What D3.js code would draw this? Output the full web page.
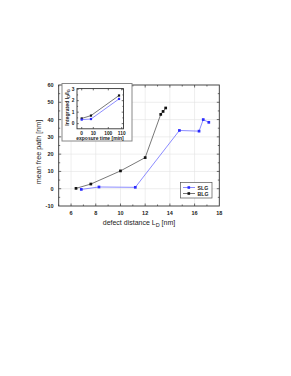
<!DOCTYPE html>
<html>
<head>
<meta charset="utf-8">
<script src="https://cdn.jsdelivr.net/npm/d3@7"></script>
<style>
  body { margin: 0; background: #fff; }
  text { font-family: "Liberation Sans", Arial, sans-serif; }
</style>
</head>
<body>
<svg width="291" height="376"></svg>
<script>
(function() {
    'use strict';
    var svg = d3.select("svg");

    // main chart data
    var slgX = [6.83, 8.26, 11.2, 14.77, 16.36, 16.7, 17.15];
    var slgY = [-0.4, 1.0, 0.8, 33.7, 33.3, 40.0, 38.4];
    var blgX = [6.4, 7.6, 10.0, 12.0, 13.26, 13.45, 13.66];
    var blgY = [0.2, 2.7, 10.3, 18.0, 43.0, 44.7, 46.7];
    var xTicks = [6, 8, 10, 12, 14, 16, 18];
    var yTicks = [-10, 0, 10, 20, 30, 40, 50, 60];

    // inset data
    var insetTime = [0, 8, 108];
    var insetBlg = [0.45, 0.7, 2.45];
    var insetSlg = [0.35, 0.4, 2.15];
    var insetXTicks = [0, 10, 100, 110];
    var insetYTicks = [0, 1, 2, 3];

    var slgColor = "#2b2bff", slgLine = "#6f6fff";
    var blgColor = "#111", blgLine = "#555";

    var x = d3.scaleLinear().domain([5, 18]).range([58.7, 219.3]);
    var y = d3.scaleLinear().domain([-10, 60]).range([206, 85]);

    var grid = svg.append("g").attr("stroke", "#e2e2e2").attr("stroke-width", 0.6);
    grid.selectAll(".gx").data(xTicks.slice(0, -1)).enter().append("line")
        .attr("x1", x).attr("x2", x).attr("y1", y(-10)).attr("y2", y(60));
    grid.selectAll(".gy").data(yTicks.slice(1, -1)).enter().append("line")
        .attr("y1", y).attr("y2", y).attr("x1", x(5)).attr("x2", x(18));

    function frameAxes(g, sx, sy, major, minorX, minorY, len) {
        var xd = sx.domain(), yd = sy.domain();
        var xr = [sx(xd[0]), sx(xd[xd.length - 1])], yr = [sy(yd[0]), sy(yd[yd.length - 1])];
        g.append("rect").attr("x", xr[0]).attr("y", yr[1])
            .attr("width", xr[1] - xr[0]).attr("height", yr[0] - yr[1])
            .attr("fill", "none").attr("stroke", "#333").attr("stroke-width", 0.9);
        var t = g.append("g").attr("stroke", "#333").attr("stroke-width", 0.7);
        major[0].concat(minorX).forEach(function(v, i) {
            var l = i < major[0].length ? len : len * 0.6;
            t.append("line").attr("x1", sx(v)).attr("x2", sx(v)).attr("y1", yr[0]).attr("y2", yr[0] - l);
            t.append("line").attr("x1", sx(v)).attr("x2", sx(v)).attr("y1", yr[1]).attr("y2", yr[1] + l);
        });
        major[1].concat(minorY).forEach(function(v, i) {
            var l = i < major[1].length ? len : len * 0.6;
            t.append("line").attr("y1", sy(v)).attr("y2", sy(v)).attr("x1", xr[0]).attr("x2", xr[0] + l);
            t.append("line").attr("y1", sy(v)).attr("y2", sy(v)).attr("x1", xr[1]).attr("x2", xr[1] - l);
        });
    }

    var main = svg.append("g");
    frameAxes(main, x, y, [xTicks.filter(function(d) { return d < 18; }), yTicks.slice(1, -1)],
        [5, 7, 9, 11, 13, 15, 17], [-5, 5, 15, 25, 35, 45, 55], 2.5);

    main.selectAll(".xt").data(xTicks).enter().append("text")
        .attr("x", x).attr("y", 214.5).attr("text-anchor", "middle")
        .attr("font-size", 5.5).attr("font-weight", "bold").attr("fill", "#222")
        .text(function(d) { return d; });
    main.selectAll(".yt").data(yTicks).enter().append("text")
        .attr("x", 53.5).attr("y", function(d) { return y(d) + 2; }).attr("text-anchor", "end")
        .attr("font-size", 5.5).attr("font-weight", "bold").attr("fill", "#222")
        .text(function(d) { return d; });

    var xl = main.append("text").attr("x", 139).attr("y", 225).attr("text-anchor", "middle")
        .attr("font-size", 7).attr("fill", "#222");
    xl.append("tspan").text("defect distance L");
    xl.append("tspan").attr("dy", 1.8).attr("font-size", 5.5).text("D");
    xl.append("tspan").attr("dy", -1.8).text(" [nm]");

    main.append("text").attr("transform", "translate(40.5,152) rotate(-90)")
        .attr("text-anchor", "middle").attr("font-size", 7.2).attr("fill", "#222")
        .text("mean free path [nm]");

    function series(g, sx, sy, xs, ys, col, lineCol, sz) {
        var pts = xs.map(function(d, i) { return [d, ys[i]]; });
        g.append("path").datum(pts)
            .attr("d", d3.line().x(function(d) { return sx(d[0]); }).y(function(d) { return sy(d[1]); }))
            .attr("fill", "none").attr("stroke", lineCol).attr("stroke-width", 0.8);
        g.selectAll(null).data(pts).enter().append("rect")
            .attr("x", function(d) { return sx(d[0]) - sz / 2; })
            .attr("y", function(d) { return sy(d[1]) - sz / 2; })
            .attr("width", sz).attr("height", sz).attr("fill", col);
    }
    series(main, x, y, slgX, slgY, slgColor, slgLine, 2.7);
    series(main, x, y, blgX, blgY, blgColor, blgLine, 2.7);

    // legend
    var lg = main.append("g");
    lg.append("rect").attr("x", 180.5).attr("y", 182.5).attr("width", 31.5).attr("height", 15.5)
        .attr("fill", "#fff").attr("stroke", "#555").attr("stroke-width", 0.7);
    [["SLG", slgColor, slgLine, 187.5], ["BLG", blgColor, blgLine, 193.5]].forEach(function(r) {
        lg.append("line").attr("x1", 183).attr("x2", 195).attr("y1", r[3]).attr("y2", r[3])
            .attr("stroke", r[2]).attr("stroke-width", 0.8);
        lg.append("rect").attr("x", 187.5).attr("y", r[3] - 1.3).attr("width", 2.6).attr("height", 2.6).attr("fill", r[1]);
        lg.append("text").attr("x", 197.5).attr("y", r[3] + 2).attr("font-size", 5.2)
            .attr("font-weight", "bold").attr("fill", "#222").text(r[0]);
    });

    // inset
    var ins = svg.append("g");
    ins.append("rect").attr("x", 62).attr("y", 83.5).attr("width", 70).attr("height", 57.5)
        .attr("fill", "#fff").attr("stroke", "#888").attr("stroke-width", 1);
    var ix = d3.scaleLinear().domain([-4, 0, 10, 100, 110, 112])
        .range([77, 81.7, 93.3, 108.3, 121.7, 123.5]);
    var iy = d3.scaleLinear().domain([-0.45, 3.05]).range([128.8, 88.6]);
    frameAxes(ins, ix, iy, [insetXTicks, insetYTicks], [], [0.5, 1.5, 2.5], 1.8);

    ins.selectAll(".ixt").data(insetXTicks).enter().append("text")
        .attr("x", ix).attr("y", 134.8).attr("text-anchor", "middle")
        .attr("font-size", 4.8).attr("font-weight", "bold").attr("fill", "#222")
        .text(function(d) { return d; });
    ins.selectAll(".iyt").data(insetYTicks).enter().append("text")
        .attr("x", 74.5).attr("y", function(d) { return iy(d) + 1.7; }).attr("text-anchor", "end")
        .attr("font-size", 4.8).attr("font-weight", "bold").attr("fill", "#222")
        .text(function(d) { return d; });
    ins.append("text").attr("x", 100).attr("y", 139.6).attr("text-anchor", "middle")
        .attr("font-size", 5).attr("font-weight", "bold").attr("fill", "#222")
        .text("exposure time [min]");
    var il = ins.append("text").attr("transform", "translate(68.5,107.5) rotate(-90)")
        .attr("text-anchor", "middle").attr("font-size", 5.2).attr("font-weight", "bold").attr("fill", "#222");
    il.append("tspan").text("Integrated I");
    il.append("tspan").attr("dy", 1.3).attr("font-size", 3.8).text("D");
    il.append("tspan").attr("dy", -1.3).text("/I");
    il.append("tspan").attr("dy", 1.3).attr("font-size", 3.8).text("G");

    series(ins, ix, iy, insetTime, insetBlg, blgColor, blgLine, 2.2);
    series(ins, ix, iy, insetTime, insetSlg, slgColor, slgLine, 2.2);
}());
</script>
</body>
</html>
